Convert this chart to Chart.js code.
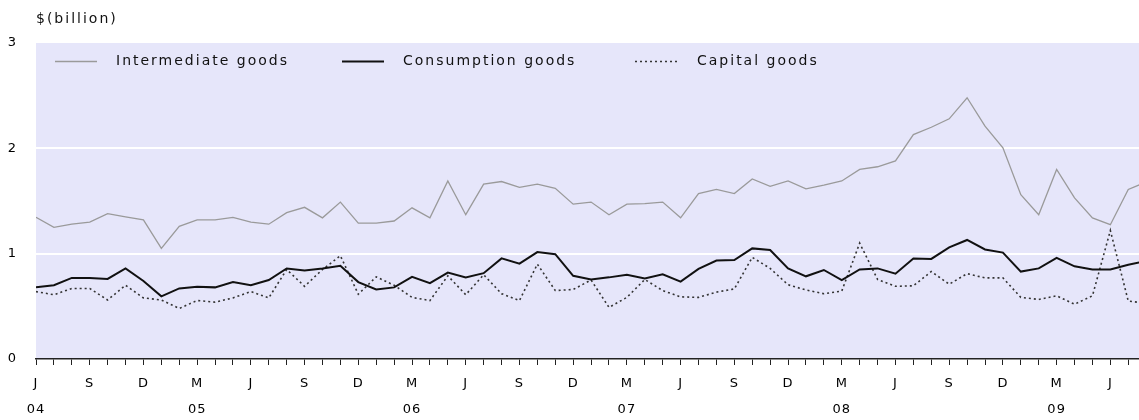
<!DOCTYPE html>
<html>
<head>
<meta charset="utf-8">
<script src="https://cdn.jsdelivr.net/npm/chart.js@4.4.1/dist/chart.umd.min.js"></script>
<style>
  html, body { margin: 0; padding: 0; background: #fff; }
  #wrap { width: 1139px; height: 420px; }
</style>
</head>
<body>
<div id="wrap"><canvas id="myChart" width="1139" height="420"></canvas></div>
<script>
// monthly values, Jun 2004 .. Aug 2009 ($ billion)
const intermediate = [
  1.345, 1.25, 1.28, 1.30, 1.38, 1.35, 1.32, 1.05, 1.26, 1.32,
  1.32, 1.345, 1.30, 1.28, 1.39, 1.44, 1.34, 1.49, 1.29, 1.29,
  1.31, 1.435, 1.34, 1.69, 1.37, 1.66, 1.685, 1.63, 1.66, 1.62,
  1.47, 1.49, 1.37, 1.47, 1.475, 1.49, 1.34, 1.57, 1.61, 1.57,
  1.71, 1.64, 1.69, 1.615, 1.65, 1.69, 1.80, 1.825, 1.88, 2.13,
  2.20, 2.28, 2.48, 2.21, 2.005, 1.56, 1.37, 1.80, 1.53, 1.34,
  1.275, 1.61, 1.68
];
const consumption = [
  0.68, 0.70, 0.77, 0.77, 0.76, 0.86, 0.74, 0.595, 0.67, 0.685,
  0.68, 0.73, 0.70, 0.75, 0.86, 0.84, 0.86, 0.885, 0.73, 0.66,
  0.68, 0.78, 0.72, 0.82, 0.775, 0.815, 0.955, 0.905, 1.015, 0.995,
  0.79, 0.755, 0.775, 0.80, 0.765, 0.805, 0.735, 0.855, 0.935, 0.94,
  1.05, 1.035, 0.86, 0.785, 0.845, 0.75, 0.85, 0.86, 0.81, 0.955,
  0.95, 1.06, 1.13, 1.04, 1.01, 0.83, 0.86, 0.96, 0.88, 0.85,
  0.85, 0.895, 0.93
];
const capital = [
  0.64, 0.61, 0.67, 0.67, 0.56, 0.70, 0.58, 0.56, 0.48, 0.555,
  0.54, 0.58, 0.64, 0.58, 0.85, 0.69, 0.85, 0.98, 0.615, 0.78,
  0.70, 0.585, 0.555, 0.79, 0.61, 0.80, 0.62, 0.555, 0.90, 0.65,
  0.66, 0.75, 0.49, 0.585, 0.755, 0.65, 0.59, 0.585, 0.635, 0.665,
  0.965, 0.86, 0.705, 0.655, 0.62, 0.645, 1.10, 0.755, 0.69, 0.695,
  0.83, 0.71, 0.81, 0.77, 0.77, 0.585, 0.565, 0.60, 0.52, 0.60,
  1.22, 0.55, 0.53
];

// x axis labels (month index from Jun 2004)
const tickIndex = [0, 3, 6, 9, 12, 15, 18, 21, 24, 27, 30, 33, 36, 39, 42, 45, 48, 51, 54, 57, 60];
const tickText = ["J", "S", "D", "M", "J", "S", "D", "M", "J", "S", "D", "M", "J", "S", "D", "M", "J", "S", "D", "M", "J"];
const yearIndex = [0, 9, 21, 33, 45, 57];
const yearText = ["04", "05", "06", "07", "08", "09"];

const seriesNames = ["Intermediate goods", "Consumption goods", "Capital goods"];
const unitLabel = "$(billion)";

const FONT = "'DejaVu Sans', Verdana, sans-serif";

function toPoints(arr) {
  return arr.map((v, i) => ({ x: i, y: v }));
}

function xLabel(value) {
  if (!Number.isInteger(value)) return null;
  const k = tickIndex.indexOf(value);
  if (k < 0) return "";
  const y = yearIndex.indexOf(value);
  return y < 0 ? tickText[k] : [tickText[k], yearText[y]];
}

// background of the plot, legend inside the plot and the unit label
const decor = {
  id: "decor",
  beforeDraw(chart) {
    const { ctx, chartArea: a } = chart;
    ctx.save();
    ctx.fillStyle = "#e6e6fa";
    ctx.fillRect(a.left, a.top, a.right - a.left, a.bottom - a.top);
    ctx.restore();
    ctx.letterSpacing = "1px";
  },
  afterDraw(chart) {
    const ctx = chart.ctx;
    const spots = [[55, 116], [342, 403], [635, 697]];
    ctx.save();
    ctx.font = "14px " + FONT;
    ctx.letterSpacing = "2px";
    ctx.textBaseline = "middle";
    chart.data.datasets.forEach((ds, i) => {
      const [lx, tx] = spots[i];
      ctx.strokeStyle = ds.borderColor;
      ctx.lineWidth = ds.borderWidth;
      ctx.setLineDash(ds.borderDash || []);
      ctx.beginPath();
      ctx.moveTo(lx, 61.5);
      ctx.lineTo(lx + 42, 61.5);
      ctx.stroke();
      ctx.setLineDash([]);
      ctx.fillStyle = "#111";
      ctx.fillText(ds.label, tx, 61);
    });
    ctx.fillStyle = "#111";
    ctx.fillText(unitLabel, 36, 19);
    ctx.restore();
  }
};

const config = {
  type: "line",
  data: {
    datasets: [
      {
        label: seriesNames[0],
        data: toPoints(intermediate),
        borderColor: "#9a9a9a",
        borderWidth: 1.3
      },
      {
        label: seriesNames[1],
        data: toPoints(consumption),
        borderColor: "#111",
        borderWidth: 2
      },
      {
        label: seriesNames[2],
        data: toPoints(capital),
        borderColor: "#333",
        borderWidth: 1.6,
        borderDash: [2, 3]
      }
    ]
  },
  options: {
    responsive: false,
    animation: false,
    devicePixelRatio: 1,
    layout: { padding: { top: 43, right: 0, left: 0, bottom: 0 } },
    elements: {
      point: { radius: 0 },
      line: { tension: 0 }
    },
    plugins: {
      legend: { display: false },
      tooltip: { enabled: false }
    },
    scales: {
      x: {
        type: "linear",
        min: 0,
        max: 61.6,
        afterFit: (s) => { s.height = 61; },
        ticks: {
          stepSize: 1,
          includeBounds: false,
          autoSkip: false,
          maxRotation: 0,
          color: "#000",
          padding: 6,
          font: { family: FONT, size: 13, lineHeight: 2 },
          callback: xLabel
        },
        grid: {
          drawOnChartArea: false,
          drawTicks: true,
          tickLength: 6,
          color: "#222",
          lineWidth: 1
        },
        border: { display: true, color: "#222", width: 1.5 }
      },
      y: {
        min: 0,
        max: 3,
        afterFit: (s) => { s.width = 36; },
        ticks: {
          stepSize: 1,
          color: "#000",
          padding: 19,
          font: { family: FONT, size: 13 }
        },
        grid: {
          drawTicks: false,
          lineWidth: 2,
          color: (c) => (c.tick && (c.tick.value === 1 || c.tick.value === 2)) ? "#ffffff" : "rgba(0,0,0,0)"
        },
        border: { display: false }
      }
    }
  },
  plugins: [decor]
};

const myChart = new Chart(document.getElementById("myChart"), config);
</script>
</body>
</html>
